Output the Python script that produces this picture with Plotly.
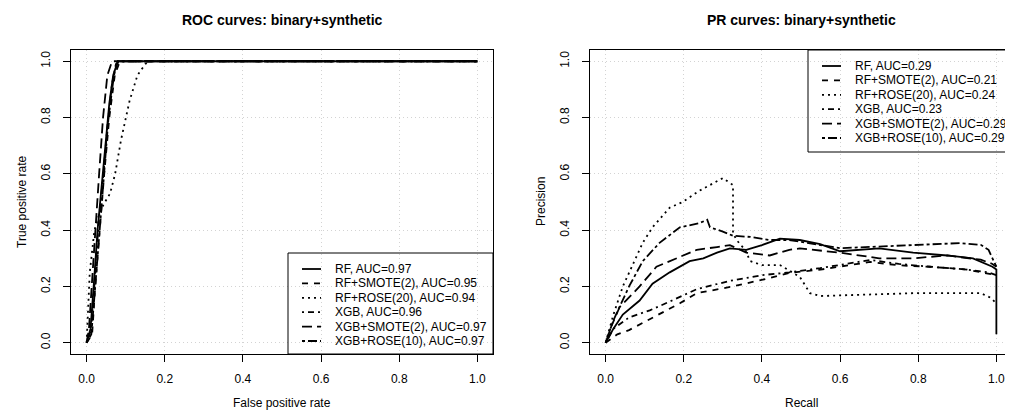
import plotly.graph_objects as go

# ---------------- data ----------------
series_names = ["RF", "RF+SMOTE(2)", "RF+ROSE(20)", "XGB", "XGB+SMOTE(2)", "XGB+ROSE(10)"]
roc_auc = ["0.97", "0.95", "0.94", "0.96", "0.97", "0.97"]
pr_auc = ["0.29", "0.21", "0.24", "0.23", "0.29", "0.29"]

# ROC curves (FPR, TPR)
roc_rf_x = [0, 0.01, 0.018, 0.028, 0.038, 0.048, 0.058, 0.068, 0.08, 1.0]
roc_rf_y = [0, 0.05, 0.2, 0.4, 0.55, 0.7, 0.85, 0.95, 1.0, 1.0]
roc_rfsm_x = [0, 0.014, 0.022, 0.033, 0.045, 0.058, 0.072, 0.085, 1.0]
roc_rfsm_y = [0, 0.03, 0.2, 0.4, 0.6, 0.8, 0.95, 1.0, 1.0]
roc_rfro_x = [0, 0.003, 0.008, 0.02, 0.035, 0.047, 0.06, 0.073, 0.088, 0.11, 0.13, 0.15, 0.16, 1.0]
roc_rfro_y = [0, 0.1, 0.25, 0.4, 0.47, 0.5, 0.53, 0.6, 0.72, 0.86, 0.95, 0.99, 1.0, 1.0]
roc_xgb_x = [0, 0.012, 0.022, 0.032, 0.043, 0.054, 0.065, 0.075, 0.085, 1.0]
roc_xgb_y = [0, 0.05, 0.25, 0.45, 0.6, 0.78, 0.92, 0.99, 1.0, 1.0]
roc_xgbsm_x = [0, 0.006, 0.013, 0.022, 0.032, 0.042, 0.053, 0.065, 1.0]
roc_xgbsm_y = [0, 0.05, 0.2, 0.4, 0.6, 0.8, 0.95, 1.0, 1.0]
roc_xgbro_x = [0, 0.012, 0.022, 0.033, 0.044, 0.056, 0.07, 0.08, 1.0]
roc_xgbro_y = [0, 0.03, 0.2, 0.4, 0.6, 0.8, 0.95, 1.0, 1.0]

# PR curves (Recall, Precision)
pr_rf_x = [0, 0.02, 0.044, 0.087, 0.12, 0.164, 0.215, 0.25, 0.285, 0.318, 0.36, 0.40, 0.446,
           0.497, 0.549, 0.60, 0.70, 0.787, 0.874, 0.94, 0.99, 1.0, 1.0]
pr_rf_y = [0, 0.05, 0.10, 0.15, 0.21, 0.25, 0.29, 0.30, 0.32, 0.335, 0.33, 0.347, 0.37,
           0.365, 0.35, 0.325, 0.335, 0.32, 0.31, 0.30, 0.27, 0.26, 0.03]
pr_rfsm_x = [0, 0.03, 0.06, 0.12, 0.19, 0.233, 0.326, 0.42, 0.47, 0.55, 0.677, 0.75, 0.83, 0.925, 0.98, 1.0]
pr_rfsm_y = [0, 0.03, 0.045, 0.09, 0.14, 0.176, 0.2, 0.23, 0.248, 0.26, 0.287, 0.275, 0.27, 0.26, 0.245, 0.24]
pr_rfro_x = [0, 0.02, 0.044, 0.095, 0.12, 0.164, 0.197, 0.24, 0.30, 0.326, 0.326, 0.335, 0.357,
             0.37, 0.40, 0.446, 0.497, 0.523, 0.549, 0.787, 0.96, 0.985, 1.0]
pr_rfro_y = [0, 0.1, 0.2, 0.355, 0.41, 0.48, 0.50, 0.54, 0.585, 0.56, 0.39, 0.365, 0.33,
             0.29, 0.276, 0.276, 0.234, 0.176, 0.166, 0.176, 0.176, 0.16, 0.14]
pr_xgb_x = [0, 0.02, 0.06, 0.113, 0.17, 0.233, 0.318, 0.40, 0.47, 0.549, 0.677, 0.75, 0.83, 0.925, 0.98, 1.0]
pr_xgb_y = [0, 0.05, 0.09, 0.115, 0.15, 0.19, 0.22, 0.24, 0.25, 0.265, 0.294, 0.28, 0.27, 0.26, 0.25, 0.24]
pr_xgbsm_x = [0, 0.015, 0.036, 0.087, 0.13, 0.18, 0.233, 0.285, 0.318, 0.36, 0.42, 0.47, 0.497,
              0.60, 0.70, 0.787, 0.874, 0.96, 0.99, 1.0]
pr_xgbsm_y = [0, 0.06, 0.127, 0.2, 0.27, 0.30, 0.33, 0.34, 0.347, 0.32, 0.31, 0.33, 0.335,
              0.32, 0.30, 0.30, 0.31, 0.295, 0.28, 0.27]
pr_xgbro_x = [0, 0.02, 0.06, 0.095, 0.138, 0.19, 0.24, 0.26, 0.267, 0.30, 0.326, 0.37, 0.42,
              0.47, 0.60, 0.787, 0.907, 0.96, 0.98, 1.0]
pr_xgbro_y = [0, 0.08, 0.2, 0.29, 0.355, 0.41, 0.425, 0.437, 0.41, 0.395, 0.38, 0.376, 0.365,
              0.365, 0.336, 0.347, 0.354, 0.348, 0.33, 0.27]

tick_vals = [0, 0.2, 0.4, 0.6, 0.8, 1.0]
tick_text = ["0.0", "0.2", "0.4", "0.6", "0.8", "1.0"]

# ---------------- style ----------------
# The page body has an 8px margin, so the figure is drawn 8px smaller and all
# reference pixel positions are shifted by OFF.
OFF = 8
W, H = 1013 - OFF, 412 - OFF
FONT = "Liberation Sans, Arial, Helvetica, sans-serif"
dashes = ["solid", "6px,6px", "2px,4px", "2px,4px,6px,4px", "10px,5px", "3px,3px,9px,3px"]
LW = 1.8

roc_x = [roc_rf_x, roc_rfsm_x, roc_rfro_x, roc_xgb_x, roc_xgbsm_x, roc_xgbro_x]
roc_y = [roc_rf_y, roc_rfsm_y, roc_rfro_y, roc_xgb_y, roc_xgbsm_y, roc_xgbro_y]
pr_x = [pr_rf_x, pr_rfsm_x, pr_rfro_x, pr_xgb_x, pr_xgbsm_x, pr_xgbro_x]
pr_y = [pr_rf_y, pr_rfsm_y, pr_rfro_y, pr_xgb_y, pr_xgbsm_y, pr_xgbro_y]

# panel geometry (reference pixels)
L_BOX = (71, 493)
R_BOX = (590, 1012)
TOP, BOT = 50, 354

def fx(px):
    return (px - OFF) / W

def fy(py):
    return 1 - (py - OFF) / H

fig = go.Figure()
for i, name in enumerate(series_names):
    fig.add_trace(go.Scatter(x=roc_x[i], y=roc_y[i], mode="lines", xaxis="x", yaxis="y",
                             line=dict(color="black", width=LW, dash=dashes[i]),
                             name=f"{name}, AUC={roc_auc[i]}", showlegend=False))
    fig.add_trace(go.Scatter(x=pr_x[i], y=pr_y[i], mode="lines", xaxis="x2", yaxis="y2",
                             line=dict(color="black", width=LW, dash=dashes[i]),
                             name=f"{name}, AUC={pr_auc[i]}", showlegend=False))

def axis(domain, anchor, angle=0, standoff=6):
    return dict(domain=domain, anchor=anchor, range=[-0.04, 1.04], tickvals=tick_vals,
                ticktext=tick_text, ticks="outside", ticklen=7, tickwidth=1, tickcolor="black",
                showline=True, linecolor="black", linewidth=1, mirror=True,
                showgrid=True, gridcolor="#d3d3d3", griddash="1px,3px", gridwidth=1,
                zeroline=False, tickangle=angle, ticklabelstandoff=standoff,
                tickfont=dict(size=12, color="black", family=FONT), fixedrange=True)

ydom = [fy(BOT), fy(TOP)]
fig.update_layout(
    width=W, height=H, margin=dict(l=0, r=0, t=0, b=0),
    paper_bgcolor="white", plot_bgcolor="white", showlegend=False,
    font=dict(family=FONT, color="black", size=12),
    xaxis=axis([fx(L_BOX[0]), fx(L_BOX[1])], "y", 0, 7),
    yaxis=axis(ydom, "x", -90, 8),
    xaxis2=axis([fx(R_BOX[0]), fx(R_BOX[1])], "y2", 0, 7),
    yaxis2=axis(ydom, "x2", -90, 8),
)

shapes = []
annotations = []

def add_text(px, py, text, size=12, bold=False, angle=0):
    annotations.append(dict(x=fx(px), y=fy(py), xref="paper", yref="paper",
                            text=f"<b>{text}</b>" if bold else text,
                            showarrow=False, xanchor="center", yanchor="middle", textangle=angle,
                            font=dict(size=size, family=FONT, color="black")))

for box, title, xt, yt in [(L_BOX, "ROC curves: binary+synthetic", "False positive rate", "True positive rate"),
                           (R_BOX, "PR curves: binary+synthetic", "Recall", "Precision")]:
    cx = (box[0] + box[1]) / 2
    add_text(cx, 20, title, size=14, bold=True)
    add_text(cx, 403, xt)
    add_text(box[0] - 49, (TOP + BOT) / 2, yt, angle=-90)

# legends (bottom-right on ROC, top-right on PR), drawn as R-style boxed legends
def legend(xa, ya, box_x0, box_y0, box_y1, entry_y0, labels):
    bw = 422.0
    bh = BOT - TOP
    shapes.append(dict(type="rect", xref=f"{xa} domain", yref=f"{ya} domain",
                       x0=box_x0 / bw, x1=1, y0=(BOT - box_y1) / bh, y1=(BOT - box_y0) / bh,
                       line=dict(color="black", width=1), fillcolor="rgba(0,0,0,0)", layer="above"))
    for i, lab in enumerate(labels):
        yy = (BOT - (entry_y0 + 14.4 * i)) / bh
        shapes.append(dict(type="line", xref=f"{xa} domain", yref=f"{ya} domain",
                           x0=(box_x0 + 14) / bw, x1=(box_x0 + 33) / bw, y0=yy, y1=yy,
                           line=dict(color="black", width=LW, dash=dashes[i]), layer="above"))
        annotations.append(dict(x=(box_x0 + 45) / bw, y=yy, xref=f"{xa} domain", yref=f"{ya} domain",
                                text=lab, showarrow=False, xanchor="left", yanchor="middle",
                                font=dict(size=12, family=FONT, color="black")))

legend("x", "y", 288 - L_BOX[0], 253, BOT, 269,
       [f"{n}, AUC={a}" for n, a in zip(series_names, roc_auc)])
legend("x2", "y2", 808 - R_BOX[0], TOP, 152, 66,
       [f"{n}, AUC={a}" for n, a in zip(series_names, pr_auc)])

fig.update_layout(shapes=shapes, annotations=annotations)
fig.write_html("out.html")
